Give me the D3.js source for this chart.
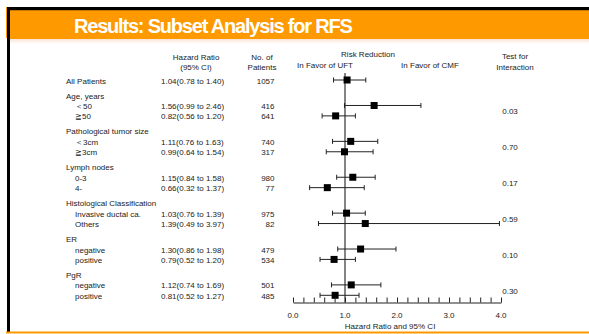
<!DOCTYPE html>
<html>
<head>
<meta charset="utf-8">
<script src="https://cdn.jsdelivr.net/npm/d3@7"></script>
<style>
  html, body { margin: 0; padding: 0; background: #fff; }
  svg { display: block; }
  text { font-family: "Liberation Sans", Arial, sans-serif; fill: #222; }
</style>
</head>
<body>
<svg id="chart" width="589" height="334"></svg>
<script>
// subgroups (index 0 is the overall row, no header)
var groupNames = ["All Patients", "Age, years", "Pathological tumor size", "Lymph nodes",
                  "Histological Classification", "ER", "PgR"];
var interactionP = [null, "0.03", "0.70", "0.17", "0.59", "0.10", "0.30"];

// one entry per plotted row
var rowLabels = ["All Patients", "＜50", "≧50", "＜3cm", "≧3cm", "0-3", "4-",
                 "Invasive ductal ca.", "Others", "negative", "positive", "negative", "positive"];
var rowGroup  = [0, 1, 1, 2, 2, 3, 3, 4, 4, 5, 5, 6, 6];
var hazard    = [1.04, 1.56, 0.82, 1.11, 0.99, 1.15, 0.66, 1.03, 1.39, 1.30, 0.79, 1.12, 0.81];
var ciLow     = [0.78, 0.99, 0.56, 0.76, 0.64, 0.84, 0.32, 0.76, 0.49, 0.86, 0.52, 0.74, 0.52];
var ciHigh    = [1.40, 2.46, 1.20, 1.63, 1.54, 1.58, 1.37, 1.39, 3.97, 1.98, 1.20, 1.69, 1.27];
var patients  = [1057, 416, 641, 740, 317, 980, 77, 975, 82, 479, 534, 501, 485];

var majorTicks = [0, 1, 2, 3, 4];
var minorStep = 0.2;

var svg = d3.select("#chart");
var fmt = d3.format(".2f");

// ---- slide frame ----
svg.append("rect").attr("x", 9).attr("y", 10).attr("width", 580).attr("height", 29).attr("fill", "#ff9900");
svg.append("rect").attr("x", 9).attr("y", 10).attr("width", 580).attr("height", 1).attr("fill", "#c87800");
var grad = svg.append("defs").append("linearGradient").attr("id", "fade").attr("x1", 0).attr("y1", 0).attr("x2", 0).attr("y2", 1);
grad.append("stop").attr("offset", 0).attr("stop-color", "#fbe3d6");
grad.append("stop").attr("offset", 1).attr("stop-color", "#fff");
svg.append("rect").attr("x", 10).attr("y", 39).attr("width", 579).attr("height", 5).attr("fill", "url(#fade)");
svg.append("rect").attr("x", 6).attr("y", 7).attr("width", 1).attr("height", 31).attr("fill", "#ff9900");
svg.append("rect").attr("x", 7).attr("y", 7).attr("width", 582).attr("height", 3).attr("fill", "#000");
svg.append("rect").attr("x", 7).attr("y", 7).attr("width", 3).attr("height", 325).attr("fill", "#000");
svg.append("rect").attr("x", 6).attr("y", 331.5).attr("width", 583).attr("height", 2).attr("fill", "#ff9900");

svg.append("text").attr("x", 74).attr("y", 33)
  .style("font-size", "20px").style("font-weight", "bold").style("letter-spacing", "-1.2px")
  .style("fill", "#fff").text("Results: Subset Analysis for RFS");

// ---- row layout ----
// every line (headers and rows) gets a slot; groups add a little extra gap
var lines = [];
rowLabels.forEach(function(label, i) {
  var g = rowGroup[i];
  if (g > 0 && (i === 0 || rowGroup[i - 1] !== g)) {
    lines.push({ header: true, group: g });
  }
  lines.push({ header: false, group: g, row: i });
});
lines.forEach(function(d, k) { d.pos = k + d.group * 0.45; });

var y = d3.scaleLinear()
  .domain([0, d3.max(lines, function(d) { return d.pos; })])
  .range([80, 295.3]);
var x = d3.scaleLinear().domain([0, 4]).range([293, 501]);

var fs = "8px";
var textOff = 3.5;

// column headers
function header(tx, ty, str, anchor) {
  svg.append("text").attr("x", tx).attr("y", ty).attr("text-anchor", anchor || "middle")
    .style("font-size", fs).text(str);
}
header(196, 59.5, "Hazard Ratio");
header(196, 69.5, "(95% CI)");
header(262, 59.5, "No. of");
header(262, 69.5, "Patients");
header(368, 57, "Risk Reduction");
header(325, 68, "In Favor of UFT");
header(430, 68, "In Favor of CMF");
header(515, 59, "Test for");
header(515, 69.5, "Interaction");

// labels
svg.append("g").selectAll("text").data(lines).join("text")
  .attr("x", function(d) { return (d.header || d.group === 0) ? 66 : 75; })
  .attr("y", function(d) { return y(d.pos) + textOff; })
  .style("font-size", fs)
  .text(function(d) { return d.header ? groupNames[d.group] : rowLabels[d.row]; });

var rows = lines.filter(function(d) { return !d.header; });

svg.append("g").selectAll("text").data(rows).join("text")
  .attr("x", 161).attr("y", function(d) { return y(d.pos) + textOff; })
  .style("font-size", fs)
  .text(function(d) {
    var i = d.row;
    return fmt(hazard[i]) + "(" + fmt(ciLow[i]) + " to " + fmt(ciHigh[i]) + ")";
  });

svg.append("g").selectAll("text").data(rows).join("text")
  .attr("x", 274.5).attr("y", function(d) { return y(d.pos) + textOff; })
  .attr("text-anchor", "end").style("font-size", fs)
  .text(function(d) { return patients[d.row]; });

// interaction p-values, centred between the group's rows
var pData = interactionP.map(function(p, g) {
  var r = rows.filter(function(d) { return d.group === g; });
  return { p: p, pos: d3.mean(r, function(d) { return d.pos; }) };
}).filter(function(d) { return d.p; });

svg.append("g").selectAll("text").data(pData).join("text")
  .attr("x", 510).attr("y", function(d) { return y(d.pos) + textOff; })
  .attr("text-anchor", "middle").style("font-size", fs)
  .text(function(d) { return d.p; });

// ---- forest plot ----
var axisY = 302.5;
svg.append("line")
  .attr("x1", x(1)).attr("x2", x(1)).attr("y1", 73).attr("y2", axisY)
  .attr("stroke", "#333").attr("stroke-width", 1.2);

var ci = svg.append("g").attr("stroke", "#222").attr("stroke-width", 1);
ci.selectAll("line.bar").data(rows).join("line").attr("class", "bar")
  .attr("x1", function(d) { return x(ciLow[d.row]); })
  .attr("x2", function(d) { return x(ciHigh[d.row]); })
  .attr("y1", function(d) { return y(d.pos); })
  .attr("y2", function(d) { return y(d.pos); });
ci.selectAll("line.lo").data(rows).join("line").attr("class", "lo")
  .attr("x1", function(d) { return x(ciLow[d.row]); })
  .attr("x2", function(d) { return x(ciLow[d.row]); })
  .attr("y1", function(d) { return y(d.pos) - 2.5; })
  .attr("y2", function(d) { return y(d.pos) + 2.5; });
ci.selectAll("line.hi").data(rows).join("line").attr("class", "hi")
  .attr("x1", function(d) { return x(ciHigh[d.row]); })
  .attr("x2", function(d) { return x(ciHigh[d.row]); })
  .attr("y1", function(d) { return y(d.pos) - 2.5; })
  .attr("y2", function(d) { return y(d.pos) + 2.5; });

var sq = 7;
svg.append("g").selectAll("rect").data(rows).join("rect")
  .attr("x", function(d) { return x(hazard[d.row]) - sq / 2; })
  .attr("y", function(d) { return y(d.pos) - sq / 2; })
  .attr("width", sq).attr("height", sq).attr("fill", "#000");

// axis: minor ticks every 0.2, labels on whole numbers
var minorTicks = d3.range(0, 4 + minorStep / 2, minorStep);
var axis = svg.append("g").attr("transform", "translate(0," + axisY + ")")
  .call(d3.axisBottom(x).tickValues(minorTicks).tickSizeInner(-5).tickSizeOuter(0).tickFormat(""));
axis.selectAll("line").attr("stroke", "#222");
axis.select(".domain").attr("stroke", "#222").attr("stroke-width", 1.2);

svg.append("g").selectAll("text").data(majorTicks).join("text")
  .attr("x", function(d) { return x(d); }).attr("y", 318)
  .attr("text-anchor", "middle").style("font-size", fs)
  .text(function(d) { return d.toFixed(1); });

header(390, 328.5, "Hazard Ratio and 95% CI");
</script>
</body>
</html>
